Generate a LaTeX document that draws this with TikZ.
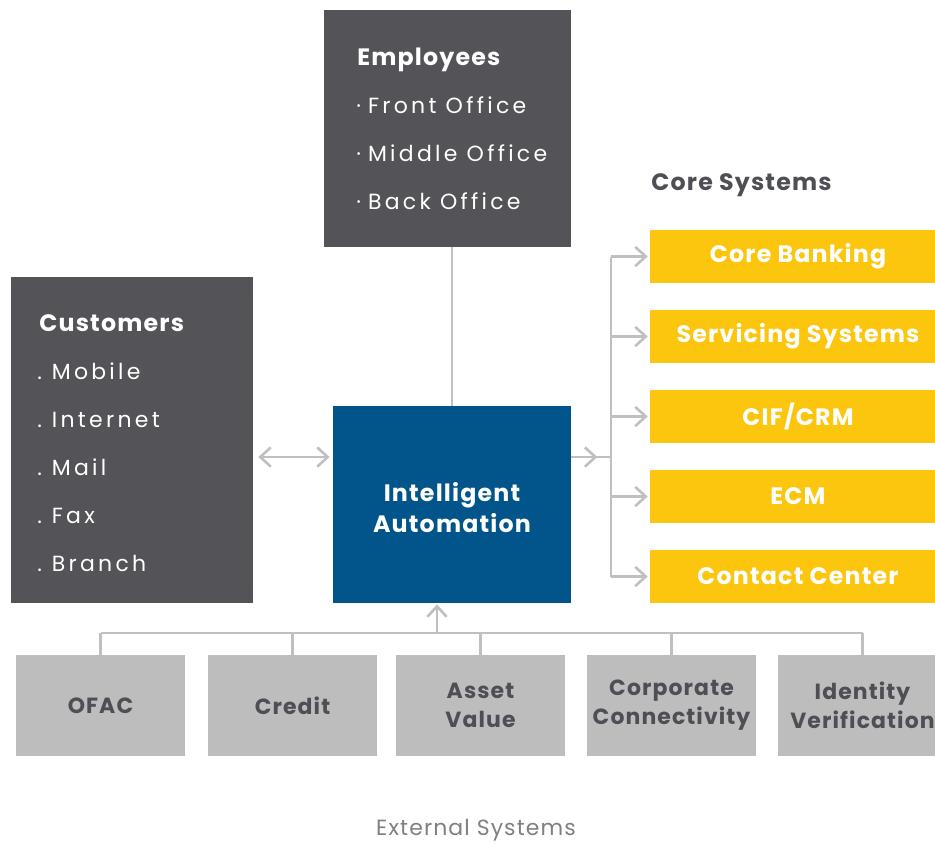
\documentclass[tikz,border=0pt]{standalone}
\usepackage{fontspec}
\setmainfont{Poppins}[LetterSpace=5]
\usetikzlibrary{calc,positioning,arrows.meta}
\definecolor{slate}{HTML}{545458}
\definecolor{navy}{HTML}{02558B}
\definecolor{gold}{HTML}{FDC60E}
\definecolor{ash}{HTML}{BDBDBD}
\definecolor{wire}{HTML}{C0C0C0}
\definecolor{ink}{HTML}{4E4F55}
\newcommand{\px}{0.02cm}
\tikzset{
  darkbox/.style = {fill=slate, inner sep=0},
  head/.style = {anchor=base west, inner sep=0, text=white, font=\bfseries\fontsize{13.5}{16}\selectfont},
  item/.style = {anchor=base west, inner sep=0, text=white,
    font=\fontsize{12.5}{15}\selectfont\addfontfeature{LetterSpace=15}},
  bluebox/.style = {fill=navy, inner sep=0, text=white, align=center,
    minimum width=238*\px, minimum height=197*\px, font=\bfseries\fontsize{13.5}{17.6}\selectfont},
  corebox/.style = {fill=gold, inner sep=0, text=white, minimum width=296*\px,
    minimum height=53*\px, font=\bfseries\fontsize{13.5}{16}\selectfont},
  extbox/.style = {fill=ash, inner sep=0, text=ink, align=center, minimum width=169*\px,
    minimum height=101*\px, font=\bfseries\fontsize{12.5}{16.5}\selectfont},
  link/.style = {draw=wire, line width=2.6*\px},
  >={Straight Barb[length=6pt, width=11pt]}
}
\begin{document}
\begin{tikzpicture}[x=0.02cm, y=-0.02cm]
\useasboundingbox (0,0) rectangle (935,843);
% employees
\node[darkbox, minimum width=247*\px, minimum height=237*\px] (emp) at (447.5,128.5) {};
\node[head] (emp-t) at (357,65) {Employees};
\node[item] (emp-1) at (356,113) {·\hspace{4pt}Front Office};
\node[item] (emp-2) at (356,161) {·\hspace{4pt}Middle Office};
\node[item] (emp-3) at (356,209) {·\hspace{4pt}Back Office};
% customers
\node[darkbox, minimum width=242*\px, minimum height=326*\px] (cust) at (132,440) {};
\node[head] (cust-t) at (39,331) {Customers};
\node[item] (cust-1) at (37,379) {.\hspace{5.6pt}Mobile};
\node[item] (cust-2) at (37,427) {.\hspace{5.6pt}Internet};
\node[item] (cust-3) at (37,475) {.\hspace{5.6pt}Mail};
\node[item] (cust-4) at (37,523) {.\hspace{5.6pt}Fax};
\node[item] (cust-5) at (37,571) {.\hspace{5.6pt}Branch};
% intelligent automation
\node[bluebox] (ia) at (452,504.5) {};
\node[text=white, align=center, font=\bfseries\fontsize{13.5}{17.6}\selectfont] (ia-t) at (452,507.5) {Intelligent\\Automation};
% core systems
\node[anchor=west, inner sep=0, text=ink, font=\bfseries\fontsize{13.5}{16}\selectfont] (core) at (651,185) {Core Systems};
\node[corebox] (core1) at (798,256.5) {Core Banking};
\node[corebox] (core2) at (798,336.5) {Servicing Systems};
\node[corebox] (core3) at (798,416.5) {CIF/CRM};
\node[corebox] (core4) at (798,496.5) {ECM};
\node[corebox] (core5) at (798,576.5) {Contact Center};
% external systems
\node[extbox] (ofac) at (100.5,705.5) {OFAC};
\node[extbox] (credit) at (292.5,705.5) {Credit};
\node[extbox] (asset) at (480.5,705.5) {Asset\\Value};
\node[extbox] (corp) at (671.5,705.5) {Corporate\\Connectivity};
\node[extbox] (idv) at (862.5,705.5) {Identity\\Verification};
\node[text=gray, font=\fontsize{12.5}{15}\selectfont] (extsys) at (476,830) {External Systems};
% connectors
\coordinate (row) at (0,457);
\coordinate (bus) at (611,457);
\coordinate (ext) at (437,633);
\draw[link] (ia.north) -- (ia.north |- emp.south);
\draw[link, <->] ($(cust.east |- row)+(5,0)$) -- ($(ia.west |- row)+(-3,0)$);
\draw[link] (ia.east |- row) -- (bus);
\draw[link, ->] (ia.east |- row) -- ++(26,0);
\draw[link] (bus |- core1) -- (bus |- core5);
\draw[link, ->] (bus |- core1) -- ($(core1.west)+(-2,0)$);
\draw[link, ->] (bus |- core2) -- ($(core2.west)+(-2,0)$);
\draw[link, ->] (bus |- core3) -- ($(core3.west)+(-2,0)$);
\draw[link, ->] (bus |- core4) -- ($(core4.west)+(-2,0)$);
\draw[link, ->] (bus |- core5) -- ($(core5.west)+(-2,0)$);
\draw[link] (ofac.north |- ext) -- (idv.north |- ext);
\draw[link] (ofac.north) -- (ofac.north |- ext);
\draw[link] (credit.north) -- (credit.north |- ext);
\draw[link] (asset.north) -- (asset.north |- ext);
\draw[link] (corp.north) -- (corp.north |- ext);
\draw[link] (idv.north) -- (idv.north |- ext);
\draw[link, ->] (ext) -- ($(ia.south -| ext)+(0,1)$);
\end{tikzpicture}
\end{document}
